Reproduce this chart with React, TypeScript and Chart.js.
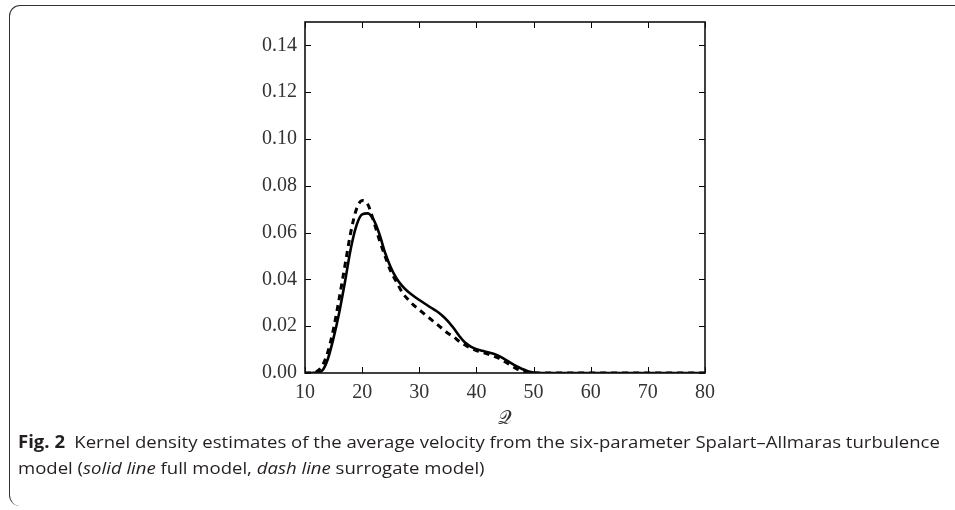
import React, { useEffect, useLayoutEffect, useRef, useState } from "react";
import { Chart, registerables } from "chart.js";

Chart.register(...registerables);

const xValues = [10, 11, 12, 13, 14, 15, 16, 17, 18, 19, 20, 21, 22, 23, 24, 25, 26, 27, 28, 29, 30, 31, 32, 33, 34, 35, 36, 37, 38, 39, 40, 41, 42, 43, 44, 45, 46, 47, 48, 49, 50, 51, 55, 60, 65, 70, 75, 80];

const fullModel = [0, 0, 0.0002, 0.001, 0.006, 0.015, 0.026, 0.039, 0.053, 0.063, 0.0678, 0.0682, 0.0655, 0.0595, 0.0515, 0.0452, 0.0405, 0.0372, 0.0348, 0.0329, 0.0312, 0.0296, 0.028, 0.0265, 0.0246, 0.0222, 0.0192, 0.0158, 0.013, 0.0113, 0.0102, 0.0095, 0.0089, 0.0082, 0.0072, 0.0058, 0.0043, 0.0029, 0.0017, 0.0008, 0.0002, 0, 0, 0, 0, 0, 0, 0];

const surrogateModel = [0, 0, 0.0005, 0.003, 0.009, 0.019, 0.032, 0.046, 0.06, 0.07, 0.0737, 0.072, 0.065, 0.057, 0.05, 0.0435, 0.039, 0.0345, 0.0315, 0.029, 0.027, 0.025, 0.023, 0.021, 0.019, 0.017, 0.0155, 0.0135, 0.012, 0.0106, 0.0096, 0.0088, 0.0081, 0.0072, 0.0062, 0.0048, 0.0033, 0.0019, 0.0008, 0.0002, 0, 0, 0, 0, 0, 0, 0, 0];

const xTicks = [10, 20, 30, 40, 50, 60, 70, 80];
const yTicks = [0, 0.02, 0.04, 0.06, 0.08, 0.1, 0.12, 0.14];

const frameTicks = {
  id: "frameTicks",
  afterDatasetsDraw(chart: any) {
    const { ctx, chartArea: a, scales } = chart;
    const x = scales.x;
    const y = scales.y;
    ctx.save();
    ctx.strokeStyle = "#000";
    ctx.lineWidth = 1;
    const len = 6;
    xTicks.forEach((v) => {
      const px = Math.round(x.getPixelForValue(v)) + 0.5;
      ctx.beginPath();
      ctx.moveTo(px, a.bottom);
      ctx.lineTo(px, a.bottom - len);
      ctx.moveTo(px, a.top);
      ctx.lineTo(px, a.top + len);
      ctx.stroke();
    });
    yTicks.forEach((v) => {
      const py = Math.round(y.getPixelForValue(v)) + 0.5;
      ctx.beginPath();
      ctx.moveTo(a.left, py);
      ctx.lineTo(a.left + len, py);
      ctx.moveTo(a.right, py);
      ctx.lineTo(a.right - len, py);
      ctx.stroke();
    });
    ctx.lineWidth = 1.6;
    ctx.strokeStyle = "#111";
    ctx.strokeRect(a.left, a.top, a.right - a.left, a.bottom - a.top);
    ctx.restore();
  },
};

function KdeChart() {
  const ref = useRef<HTMLCanvasElement>(null);
  useEffect(() => {
    if (!ref.current) return;
    const chart = new Chart(ref.current, {
      type: "line",
      data: {
        datasets: [
          {
            label: "full model",
            data: xValues.map((v, i) => ({ x: v, y: fullModel[i] })),
            borderColor: "#000",
            borderWidth: 2.6,
            pointRadius: 0,
            cubicInterpolationMode: "monotone",
            fill: false,
          },
          {
            label: "surrogate model",
            data: xValues.map((v, i) => ({ x: v, y: surrogateModel[i] })),
            borderColor: "#000",
            borderWidth: 3,
            borderDash: [6, 5],
            pointRadius: 0,
            cubicInterpolationMode: "monotone",
            fill: false,
          },
        ],
      },
      options: {
        animation: false,
        responsive: false,
        devicePixelRatio: 1,
        layout: { padding: { top: 12, right: 15, left: 0, bottom: 0 } },
        plugins: { legend: { display: false }, tooltip: { enabled: false } },
        scales: {
          x: {
            type: "linear",
            min: 10,
            max: 80,
            afterBuildTicks: (s: any) => {
              s.ticks = xTicks.map((v) => ({ value: v }));
            },
            afterFit: (s: any) => {
              s.height = 57;
              s.paddingLeft = 0;
              s.paddingRight = 0;
            },
            grid: { display: false, drawTicks: false },
            border: { display: false },
            ticks: {
              color: "#333",
              padding: 8,
              font: { family: "'Liberation Serif', serif", size: 20 },
              callback: (v: any) => String(v),
            },
            title: {
              display: true,
              text: "𝒬",
              color: "#333",
              padding: { top: 0, bottom: 0 },
              font: { family: "'DejaVu Serif', 'Liberation Serif', serif", size: 19 },
            },
          },
          y: {
            type: "linear",
            min: 0,
            max: 0.15,
            afterBuildTicks: (s: any) => {
              s.ticks = yTicks.map((v) => ({ value: v }));
            },
            afterFit: (s: any) => {
              s.width = 75;
              s.paddingTop = 0;
              s.paddingBottom = 0;
            },
            grid: { display: false, drawTicks: false },
            border: { display: false },
            ticks: {
              color: "#333",
              padding: 8,
              font: { family: "'Liberation Serif', serif", size: 20 },
              callback: (v: any) => Number(v).toFixed(2),
            },
          },
        },
      },
      plugins: [frameTicks],
    } as any);
    return () => chart.destroy();
  }, []);
  return <canvas ref={ref} width={490} height={420} style={{ position: "absolute", left: 230, top: 10, width: 490, height: 420 }} />;
}

export default function App() {
  const lineRef = useRef<HTMLDivElement>(null);
  const [scale, setScale] = useState(1);
  useLayoutEffect(() => {
    if (lineRef.current) {
      const w = lineRef.current.scrollWidth;
      if (w > 0) setScale(922 / w);
    }
  }, []);
  const textStyle: React.CSSProperties = {
    fontFamily: "'Open Sans', 'Noto Sans', sans-serif",
    fontSize: 17,
    color: "#231f20",
    whiteSpace: "nowrap",
    lineHeight: "26px",
  };
  return (
    <div style={{ position: "absolute", left: 0, top: 0, width: 955, height: 510, background: "#fff", overflow: "hidden" }}>
      <div
        style={{
          position: "absolute",
          left: 9,
          top: 5,
          width: 960,
          height: 500,
          borderLeft: "1.5px solid #333",
          borderTop: "1.5px solid #333",
          borderTopLeftRadius: 11,
          borderBottomLeftRadius: 11,
        }}
      />
      <KdeChart />
      <div style={{ position: "absolute", left: 18, top: 429, transformOrigin: "0 0", transform: `scaleX(${scale})` }}>
        <div style={textStyle}>
          <span ref={lineRef} style={{ display: "inline-block" }}>
            <b style={{ fontWeight: 700 }}>Fig. 2</b>
            {"\u2002Kernel density estimates of the average velocity from the six-parameter Spalart–Allmaras turbulence"}
          </span>
        </div>
        <div style={textStyle}>
          model (<i>solid line</i> full model, <i>dash line</i> surrogate model)
        </div>
      </div>
    </div>
  );
}
